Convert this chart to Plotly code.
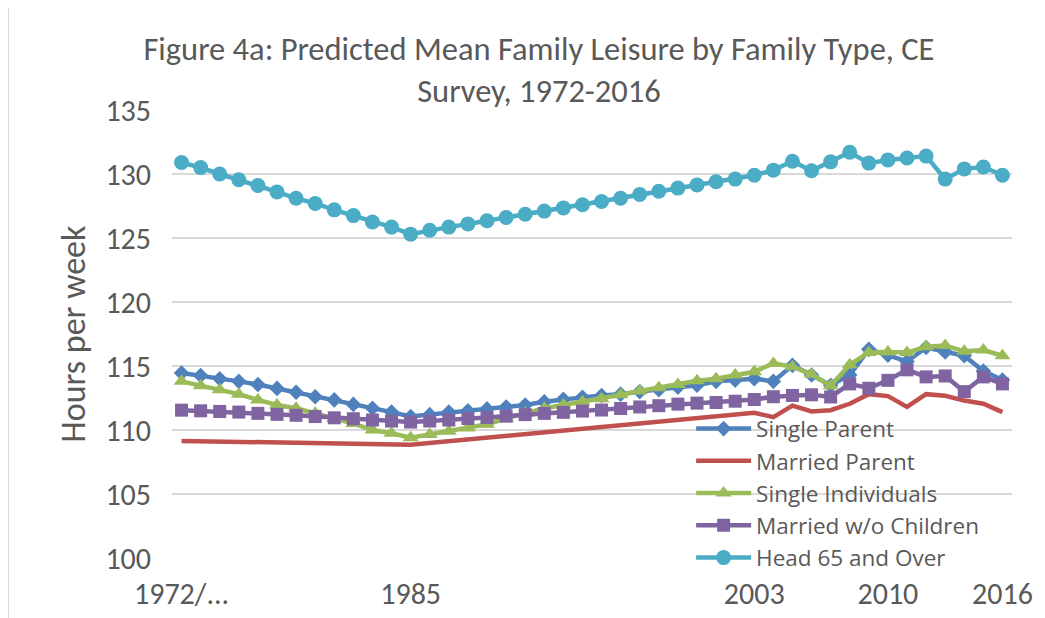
import plotly.graph_objects as go

# ---- data ----
categories = ["1972/73"] + [str(y) for y in range(1974, 2017)]
tick_values = ["1972/73", "1985", "2003", "2010", "2016"]
tick_labels = ["1972/...", "1985", "2003", "2010", "2016"]

single_parent = [114.45, 114.25, 114.0, 113.8, 113.55, 113.25, 112.95, 112.6, 112.35, 112.0, 111.7, 111.4, 111.05,
                 111.2, 111.4, 111.5, 111.65, 111.8, 111.95, 112.2, 112.4, 112.55, 112.7, 112.8, 113.0, 113.15,
                 113.35, 113.5, 113.8, 113.9,
                 114.0, 113.8, 115.05, 114.3, 113.5, 114.3, 116.3, 115.85, 115.35, 116.45, 116.1, 115.8, 114.6, 113.9]

married_parent = [109.15] + [None] * 11 + [108.85] + [None] * 17 + \
                 [111.35, 111.0, 111.9, 111.45, 111.55, 112.05, 112.8, 112.65, 111.8, 112.8, 112.68, 112.3, 112.05, 111.4]

single_individuals = [113.8, 113.45, 113.15, 112.8, 112.35, 111.95, 111.7, 111.3, 110.9, 110.5, 110.0, 109.75, 109.4,
                      109.65, 109.9, 110.15, 110.45, 110.9, 111.3, 111.7, 111.95, 112.2, 112.45, 112.75, 113.05, 113.3,
                      113.55, 113.85, 114.0, 114.3,
                      114.55, 115.2, 114.95, 114.35, 113.45, 115.1, 116.05, 116.1, 116.05, 116.5, 116.6, 116.15, 116.25, 115.8]

married_no_children = [111.55, 111.5, 111.45, 111.4, 111.3, 111.22, 111.15, 111.05, 110.95, 110.88, 110.78, 110.7, 110.62,
                       110.7, 110.78, 110.9, 110.98, 111.08, 111.2, 111.3, 111.38, 111.48, 111.56, 111.68, 111.8, 111.9,
                       112.02, 112.1, 112.15, 112.25,
                       112.38, 112.6, 112.7, 112.75, 112.58, 113.6, 113.26, 113.88, 114.7, 114.15, 114.22, 113.0, 114.15, 113.6]

head_65_over = [130.9, 130.5, 130.0, 129.55, 129.1, 128.6, 128.1, 127.7, 127.2, 126.75, 126.25, 125.85, 125.3,
                125.6, 125.85, 126.1, 126.35, 126.6, 126.85, 127.1, 127.35, 127.6, 127.85, 128.1, 128.4, 128.65,
                128.9, 129.15, 129.4, 129.6,
                129.9, 130.3, 131.0, 130.25, 130.95, 131.7, 130.85, 131.1, 131.25, 131.4, 129.6, 130.4, 130.55, 129.9]

FONT = "Carlito, Lato, 'Open Sans', sans-serif"
LEG_FONT = "'Open Sans', Carlito, sans-serif"
TXT = "#595959"

series = [
    ("Single Parent", single_parent, "#4F81BD", "diamond", 12),
    ("Married Parent", married_parent, "#C0504D", None, 0),
    ("Single Individuals", single_individuals, "#9BBB59", "triangle-up", 14),
    ("Married w/o Children", married_no_children, "#8064A2", "square", 13),
    ("Head 65 and Over", head_65_over, "#4BACC6", "circle", 15),
]

fig = go.Figure()
for name, vals, color, sym, size in series:
    if sym is None:
        fig.add_trace(go.Scatter(x=categories, y=vals, name=name, mode="lines",
                                 connectgaps=True,
                                 line=dict(color=color, width=4.5)))
    else:
        fig.add_trace(go.Scatter(x=categories, y=vals, name=name, mode="lines+markers",
                                 line=dict(color=color, width=4.5),
                                 marker=dict(symbol=sym, size=size, color=color,
                                             line=dict(width=0))))

# page body adds an 8px offset; figure is sized and laid out to compensate
fig.update_layout(
    width=1037, height=610,
    margin=dict(l=164, r=33, t=102, b=60, autoexpand=False),
    paper_bgcolor="white", plot_bgcolor="white",
    font=dict(family=FONT, color=TXT, size=29),
    title=dict(text="Figure 4a: Predicted Mean Family Leisure by Family Type, CE<br>Survey, 1972-2016",
               x=0.512, xanchor="center", xref="container",
               y=0.915, yanchor="top", yref="container",
               font=dict(family=FONT, size=32.5, color=TXT)),
    showlegend=True,
    legend=dict(x=0.618, y=0.336, xanchor="left", yanchor="top",
                bgcolor="rgba(0,0,0,0)", font=dict(size=22.5, color=TXT, family=LEG_FONT),
                itemwidth=55, tracegroupgap=0),
    xaxis=dict(type="category", range=[-0.5, 43.5], automargin=False,
               tickmode="array", tickvals=tick_values, ticktext=tick_labels,
               showgrid=False, showline=False, ticks="", ticklabelstandoff=15,
               tickfont=dict(size=30, color=TXT, family=FONT)),
    yaxis=dict(range=[100, 135], dtick=5, tick0=100, automargin=False,
               showgrid=True, gridcolor="#D9D9D9", gridwidth=1.5,
               zeroline=False, showline=False, ticks="", ticklabelstandoff=20,
               tickfont=dict(size=30, color=TXT, family=FONT),
               title=dict(text="Hours per week", font=dict(size=34, color=TXT, family=FONT), standoff=9)),
)

fig.add_shape(type="line", xref="paper", yref="paper",
              x0=(0.5 - 164) / 840, x1=(0.5 - 164) / 840, y0=-60 / 448, y1=1 + 102 / 448,
              line=dict(color="#D9D9D9", width=1))

fig.write_html("out.html")
